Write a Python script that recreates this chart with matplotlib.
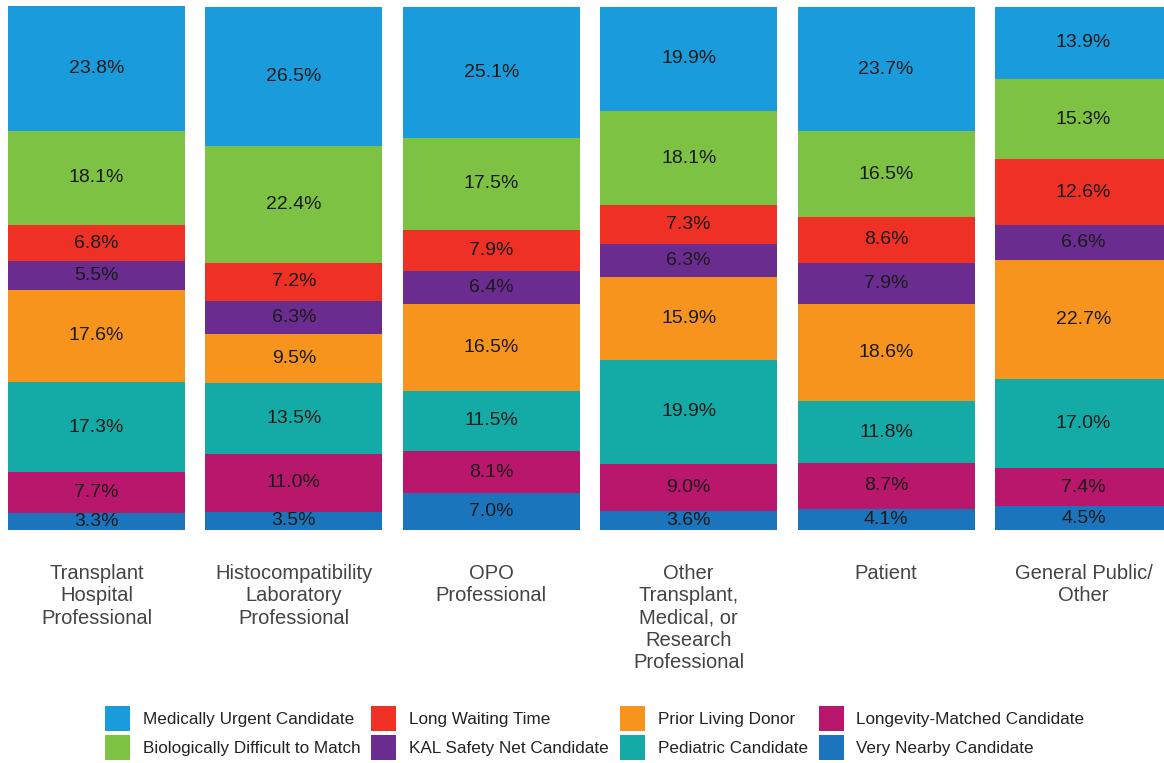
import numpy as np
import matplotlib
matplotlib.use("Agg")
import matplotlib.pyplot as plt
from matplotlib.patches import Patch

plt.rcParams["font.family"] = ["Liberation Sans", "DejaVu Sans"]

# 응답자 그룹
groups = [
    "Transplant\nHospital\nProfessional",
    "Histocompatibility\nLaboratory\nProfessional",
    "OPO\nProfessional",
    "Other\nTransplant,\nMedical, or\nResearch\nProfessional",
    "Patient",
    "General Public/\nOther",
]

# 아래에서 위로 쌓는 순서
categories = [
    "Very Nearby Candidate",
    "Longevity-Matched Candidate",
    "Pediatric Candidate",
    "Prior Living Donor",
    "KAL Safety Net Candidate",
    "Long Waiting Time",
    "Biologically Difficult to Match",
    "Medically Urgent Candidate",
]

very_nearby = [3.3, 3.5, 7.0, 3.6, 4.1, 4.5]
longevity = [7.7, 11.0, 8.1, 9.0, 8.7, 7.4]
pediatric = [17.3, 13.5, 11.5, 19.9, 11.8, 17.0]
prior_living = [17.6, 9.5, 16.5, 15.9, 18.6, 22.7]
kal_safety = [5.5, 6.3, 6.4, 6.3, 7.9, 6.6]
long_waiting = [6.8, 7.2, 7.9, 7.3, 8.6, 12.6]
bio_difficult = [18.1, 22.4, 17.5, 18.1, 16.5, 15.3]
med_urgent = [23.8, 26.5, 25.1, 19.9, 23.7, 13.9]

series = [very_nearby, longevity, pediatric, prior_living,
          kal_safety, long_waiting, bio_difficult, med_urgent]

colors = ["#1b75bc", "#b8176b", "#14aaa6", "#f7941d",
          "#6a2c8f", "#ee3124", "#7dc242", "#1a9bdb"]

fig = plt.figure(figsize=(11.64, 7.63), dpi=100)
ax = fig.add_axes([0, 1 - 530 / 763, 1, 524 / 763])

x = np.arange(len(groups))
bottom = np.zeros(len(groups))
for vals, col in zip(series, colors):
    vals = np.array(vals)
    ax.bar(x, vals, width=0.897, bottom=bottom, color=col, edgecolor="none")
    for xi, b, v in zip(x, bottom, vals):
        ax.text(xi, b + v / 2, f"{v:.1f}%", ha="center", va="center",
                fontsize=14, color="#1a1a1a")
    bottom += vals

total = bottom.max()
ax.set_ylim(0, total)
ax.set_xlim(-96.5 / 197.4, (1164 - 96.5) / 197.4)
ax.axis("off")

# 그룹 라벨
for xi, g in zip(x, groups):
    ax.text(xi, -total * 34 / 524, g, ha="center", va="top",
            fontsize=14.5, color="#444444", linespacing=1.22)

# 범례
order = ["Medically Urgent Candidate", "Biologically Difficult to Match",
         "Long Waiting Time", "KAL Safety Net Candidate",
         "Prior Living Donor", "Pediatric Candidate",
         "Longevity-Matched Candidate", "Very Nearby Candidate"]
cmap = dict(zip(categories, colors))
handles = [Patch(facecolor=cmap[c], edgecolor="none", label=c) for c in order]
fig.legend(handles=handles, ncol=4, loc="center",
           bbox_to_anchor=(0.511, 1 - 733 / 763), frameon=False,
           fontsize=12.3, handlelength=1.45, handleheight=1.85,
           handletextpad=0.75, columnspacing=0.65, labelspacing=0.25,
           labelcolor="#222222")

fig.savefig("out.png", dpi=100)
